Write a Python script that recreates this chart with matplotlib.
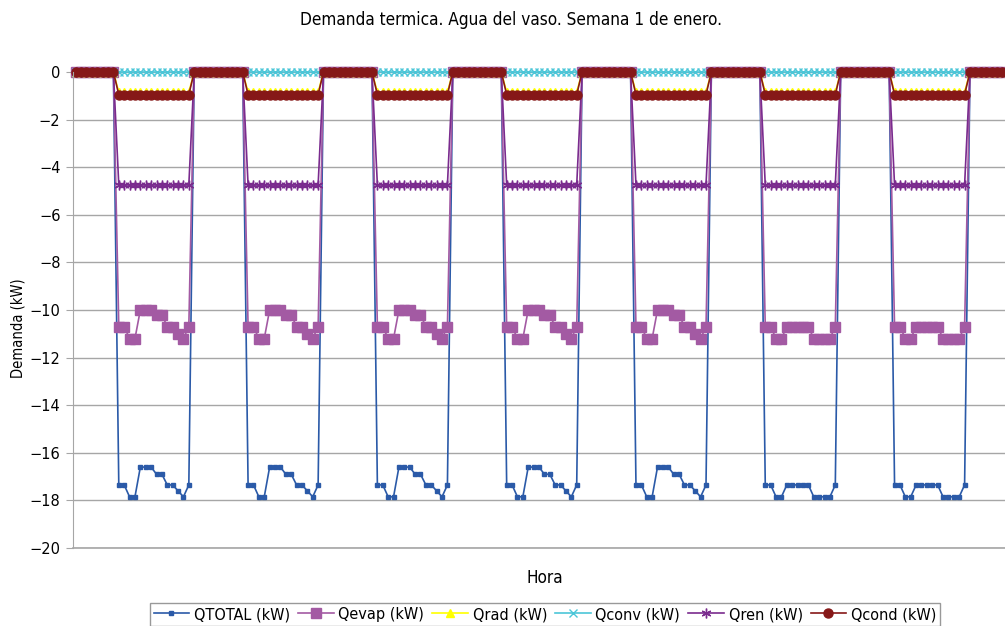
import matplotlib
matplotlib.use('Agg')
import matplotlib.pyplot as plt

# daily profiles (kW), hours 0..23
closed_night = [0.0] * 8          # hours 0-7
closed_evening = [0.0] * 2        # hours 22-23

qtotal_a = [-17.35, -17.35, -17.85, -17.85, -16.6, -16.6, -16.6,
            -16.9, -16.9, -17.35, -17.35, -17.6, -17.85, -17.35]
qtotal_b = [-17.35, -17.35, -17.85, -17.85, -17.35, -17.35, -17.35,
            -17.35, -17.35, -17.85, -17.85, -17.85, -17.85, -17.35]
qevap_a = [-10.7, -10.7, -11.2, -11.2, -10.0, -10.0, -10.0,
           -10.2, -10.2, -10.7, -10.7, -11.0, -11.2, -10.7]
qevap_b = [-10.7, -10.7, -11.2, -11.2, -10.7, -10.7, -10.7,
           -10.7, -10.7, -11.2, -11.2, -11.2, -11.2, -10.7]
qrad_day = [-0.85] * 14
qconv_day = [0.0] * 14
qren_day = [-4.75] * 14
qcond_day = [-0.95] * 14

tail = [0.0] * 5   # first hours of the following day


def week(day_a, day_b):
    days = [day_a] * 5 + [day_b] * 2
    out = []
    for d in days:
        out += closed_night + d + closed_evening
    return out + tail


series = [
    ("QTOTAL (kW)", week(qtotal_a, qtotal_b), '#2b5aa8', 's', 2.2),
    ("Qevap (kW)", week(qevap_a, qevap_b), '#a35aa3', 's', 7),
    ("Qrad (kW)", week(qrad_day, qrad_day), '#ffff00', '^', 6),
    ("Qconv (kW)", week(qconv_day, qconv_day), '#4bc6d8', 'x', 6),
    ("Qren (kW)", week(qren_day, qren_day), '#7a2b8e', (6, 2, 0), 7),
    ("Qcond (kW)", week(qcond_day, qcond_day), '#861818', 'o', 6.5),
]

hours = list(range(len(series[0][1])))

narrow = dict(fontstretch='condensed')

fig = plt.figure(figsize=(10.05, 6.26), dpi=100)
ax = fig.add_axes([73 / 1005, 1 - 548 / 626, 1 - 73 / 1005, (548 - 72) / 626])

for name, vals, col, mk, ms in series:
    ax.plot(hours, vals, color=col, marker=mk, markersize=ms, linewidth=1.2,
            markeredgewidth=1.0, markeredgecolor=col, label=name, clip_on=False)

ax.set_xlim(-0.5, len(hours) - 0.5)
ax.set_ylim(-20, 0)
ax.set_yticks(range(-20, 1, 2))
ax.set_xticks([])
ax.yaxis.grid(True, color='#a6a6a6', linewidth=1)
ax.axhline(-20, color='#a6a6a6', linewidth=1.2, zorder=0.5, clip_on=False)
ax.set_axisbelow(True)
for s in ['top', 'right', 'bottom']:
    ax.spines[s].set_visible(False)
ax.spines['left'].set_color('#a6a6a6')
ax.tick_params(axis='y', length=5, color='#a6a6a6', labelsize=10.5, pad=4)

fig.text(511 / 1005, 1 - 20 / 626, "Demanda termica. Agua del vaso. Semana 1 de enero.",
         ha='center', va='center', fontsize=12.3, **narrow)
fig.text(18 / 1005, 1 - 328 / 626, "Demanda (kW)", rotation=90, ha='center',
         va='center', fontsize=10.5, **narrow)
fig.text(545 / 1005, 1 - 578 / 626, "Hora", ha='center', va='center', fontsize=12.3, **narrow)

leg = fig.legend(loc='upper center', bbox_to_anchor=(545 / 1005, 1 - 603 / 626), ncol=6,
                 frameon=True, fancybox=False, handlelength=2.2,
                 columnspacing=0.5, handletextpad=0.3, borderpad=0.25, borderaxespad=0,
                 prop=dict(size=11.6, stretch='condensed'))
leg.get_frame().set_edgecolor('#808080')
leg.get_frame().set_linewidth(1)

fig.savefig('out.png', dpi=100)
